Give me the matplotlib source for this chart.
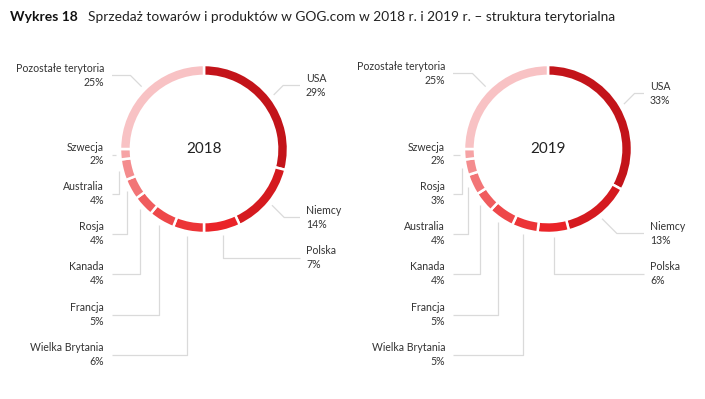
import numpy as np
import matplotlib
matplotlib.use("Agg")
import matplotlib.pyplot as plt

plt.rcParams['font.family'] = ['Lato', 'DejaVu Sans']

# dane
kraje_2018 = ['USA', 'Niemcy', 'Polska', 'Wielka Brytania', 'Francja', 'Kanada',
              'Rosja', 'Australia', 'Szwecja', 'Pozostałe terytoria']
udzialy_2018 = [29, 14, 7, 6, 5, 4, 4, 4, 2, 25]

kraje_2019 = ['USA', 'Niemcy', 'Polska', 'Wielka Brytania', 'Francja', 'Kanada',
              'Australia', 'Rosja', 'Szwecja', 'Pozostałe terytoria']
udzialy_2019 = [33, 13, 6, 5, 5, 4, 4, 3, 2, 25]

kolory = ['#c3141a', '#d51a1f', '#ea2328', '#ec3437', '#ee4749', '#f05c5e',
          '#f27577', '#f48c8e', '#f6a3a5', '#f8c2c4']

# uklad (piksele od gory), y srodka etykiety
etyk_y_2018 = [85.5, 217.5, 257.5, 354.5, 314.5, 273.5, 233.5, 193.5, 154, 75.5]
etyk_y_2019 = [93.5, 233.5, 273.5, 354.5, 314.5, 273.5, 233.5, 193.5, 154, 73.5]
rodzaj = ['d', 'd', 'v', 'v', 'v', 'v', 'v', 'v', 'h', 'd']

W, H = 705, 399
fig = plt.figure(figsize=(7.05, 3.99), dpi=100)
ax = fig.add_axes([0, 0, 1, 1])

TXT = '#333333'
LINIA = '#dadada'
R = 84


def Y(py):
    return H - py


def donut(cx, cy, kraje, udzialy, etyk_y, x_lewy, x_prawy, rok):
    wedges, _ = ax.pie(udzialy, colors=kolory, startangle=90, counterclock=False,
                       radius=R, center=(cx, Y(cy)),
                       wedgeprops=dict(width=R * 0.13, edgecolor='white', linewidth=1.8))
    ax.text(cx, Y(cy), rok, ha='center', va='center', fontsize=11, color='#222222')
    for w, nazwa, val, ly, kind in zip(wedges, kraje, udzialy, etyk_y, rodzaj):
        ang = np.deg2rad((w.theta1 + w.theta2) / 2)
        px = cx + 1.05 * R * np.cos(ang)
        py = Y(cy) + 1.05 * R * np.sin(ang)
        prawa = np.cos(ang) > 0
        ty = Y(ly)
        if prawa:
            end = x_prawy - 6
        else:
            end = x_lewy + 8
        if kind == 'v':
            xs = [px, px, end]
            ys = [py, ty, ty]
        elif kind == 'd':
            dx = abs(py - ty)
            ex = px + dx if prawa else px - dx
            xs = [px, ex, end]
            ys = [py, ty, ty]
        else:
            xs = [px, end]
            ys = [py, py]
        ax.plot(xs, ys, color=LINIA, lw=0.9, solid_capstyle='butt', zorder=0)
        tekst = f'{nazwa}\n{val}%'
        if prawa:
            ax.text(x_prawy, ty, tekst, ha='left', va='center', fontsize=7.6,
                    color=TXT, linespacing=1.3)
        else:
            ax.text(x_lewy, ty, tekst, ha='right', va='center', fontsize=7.6,
                    color=TXT, linespacing=1.3, multialignment='right')


donut(204, 149, kraje_2018, udzialy_2018, etyk_y_2018, 104, 306, '2018')
donut(548, 149, kraje_2019, udzialy_2019, etyk_y_2019, 445, 650, '2019')

ax.text(10, Y(17), 'Wykres 18', fontsize=10, fontweight='bold', color='#111111',
        va='center', ha='left')
ax.text(88, Y(17), 'Sprzedaż towarów i produktów w GOG.com w 2018 r. i 2019 r. – struktura terytorialna',
        fontsize=9.9, color='#222222', va='center', ha='left')

ax.set_xlim(0, W)
ax.set_ylim(0, H)
ax.set_aspect('equal')
ax.axis('off')

fig.savefig('out.png', dpi=100, facecolor='white')
